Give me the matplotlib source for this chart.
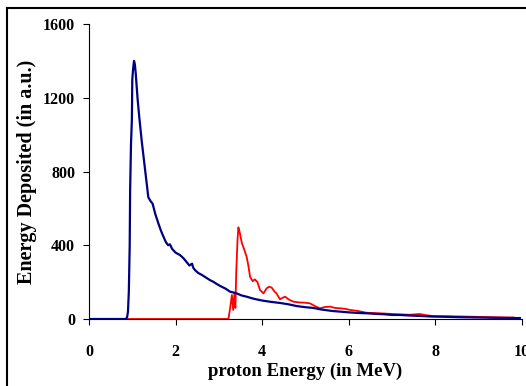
import matplotlib
matplotlib.use("Agg")
import matplotlib.pyplot as plt
from matplotlib.lines import Line2D

plt.rcParams["font.family"] = ["Liberation Serif", "DejaVu Serif"]
plt.rcParams["font.weight"] = "bold"

# blue curve (energy in MeV, deposited energy in a.u.)
blue_x = [0.0, 0.5, 0.85, 0.88, 0.9, 0.92, 0.94, 0.95, 0.97, 0.99, 1.0, 1.02,
          1.04, 1.06, 1.08, 1.12, 1.16, 1.22, 1.30, 1.37, 1.42, 1.47, 1.53,
          1.60, 1.66, 1.72, 1.78, 1.83, 1.87, 1.92, 2.0, 2.10, 2.18, 2.25,
          2.32, 2.38, 2.41, 2.45, 2.52, 2.60, 2.72, 2.80, 2.87, 2.95, 3.03,
          3.15, 3.26, 3.40, 3.52, 3.64, 3.80, 4.0, 4.2, 4.41, 4.6, 4.8, 5.0,
          5.18, 5.35, 5.57, 5.64, 5.8, 6.0, 6.2, 6.41, 6.6, 6.8, 7.0, 7.18,
          7.4, 7.6, 7.95, 8.2, 8.5, 8.72, 9.0, 9.2, 9.5, 9.95]
blue_y = [0, 0, 0, 10, 40, 150, 400, 700, 950, 1080, 1300, 1360,
          1400, 1380, 1330, 1200, 1097, 960, 800, 660, 640, 625, 570,
          520, 480, 446, 415, 400, 405, 380, 360, 347, 330, 310,
          290, 300, 277, 265, 250, 240, 222, 210, 202, 190, 179,
          165, 148, 140, 128, 121, 110, 100, 93, 87, 80, 70, 64,
          60, 52, 45, 43, 40, 36, 33, 31, 28, 26, 22, 22,
          19, 17, 13, 12, 10, 9, 8, 7, 6, 5]

# red curve
red_x = [0.87, 1.5, 2.5, 3.22, 3.26, 3.30, 3.33, 3.36, 3.38, 3.40, 3.43,
         3.45, 3.48, 3.53, 3.58, 3.64, 3.68, 3.72, 3.78, 3.83, 3.89, 3.95,
         4.03, 4.10, 4.16, 4.22, 4.28, 4.33, 4.41, 4.47, 4.53, 4.62, 4.72,
         4.85, 5.0, 5.10, 5.22, 5.33, 5.45, 5.57, 5.68, 5.80, 5.92, 6.03,
         6.2, 6.41, 6.6, 6.8, 7.0, 7.18, 7.4, 7.64, 7.8, 7.95, 8.3, 8.72,
         9.1, 9.49, 9.8]
red_y = [0, 0, 0, 0, 60, 130, 49, 141, 60, 250, 430,
         497, 470, 412, 380, 338, 290, 229, 205, 215, 200, 157,
         139, 166, 175, 170, 150, 139, 107, 115, 121, 105, 94,
         90, 88, 85, 70, 58, 65, 67, 60, 58, 55, 49,
         44, 34, 32, 30, 27, 25, 23, 27, 20, 16, 15, 13,
         11, 9, 8]

x_ticks = [0, 2, 4, 6, 8, 10]
y_ticks = [0, 400, 800, 1200, 1600]

fig = plt.figure(figsize=(5.26, 3.86), dpi=100)
ax = fig.add_axes([89 / 526, 1 - 319 / 386, 433 / 526, 295 / 386])

ax.plot(blue_x, blue_y, color="#000080", lw=1.6, zorder=3)
ax.plot(red_x, red_y, color="#ff0000", lw=1.3, zorder=2)

ax.set_xlim(0, 10)
ax.set_ylim(0, 1600)
ax.set_xticks(x_ticks)
ax.set_yticks(y_ticks)
ax.spines["top"].set_visible(False)
ax.spines["right"].set_visible(False)
ax.tick_params(axis="both", direction="out", length=4, width=0.8, labelsize=11.5)
ax.tick_params(axis="x", pad=14)
ax.tick_params(axis="y", pad=6)
for lab in ax.get_xticklabels() + ax.get_yticklabels():
    lab.set_fontweight("bold")

ax.set_xlabel("proton Energy (in MeV)", fontsize=13.5, fontweight="bold", labelpad=2)
ax.set_ylabel("Energy Deposited (in a.u.)", fontsize=14.5, fontweight="bold", labelpad=4)

# outer frame of the picture (only top and left edges are visible)
fig.add_artist(Line2D([7 / 526, 1.0], [1 - 8 / 386, 1 - 8 / 386],
                      transform=fig.transFigure, color="black", lw=1.5))
fig.add_artist(Line2D([7 / 526, 7 / 526], [0.0, 1 - 8 / 386],
                      transform=fig.transFigure, color="black", lw=1.5))

fig.savefig("out.png", dpi=100)
